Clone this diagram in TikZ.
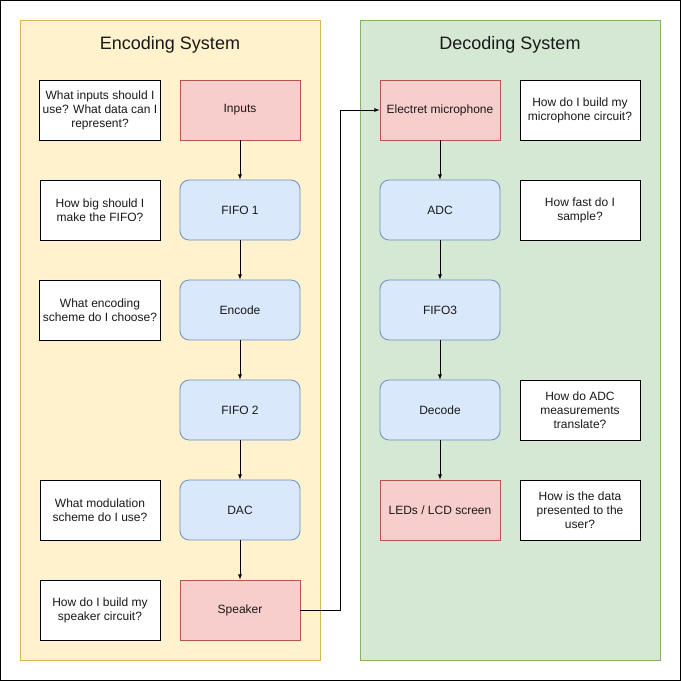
\documentclass[tikz,border=0pt]{standalone}
\usepackage{fontspec}
\setmainfont{Liberation Sans}
\usepackage{tikz}
\usetikzlibrary{arrows}
\definecolor{encfill}{HTML}{FFF2CC}
\definecolor{encline}{HTML}{D6B656}
\definecolor{decfill}{HTML}{D5E8D4}
\definecolor{decline}{HTML}{82B366}
\definecolor{redfill}{HTML}{F8CECC}
\definecolor{redline}{HTML}{B85450}
\definecolor{bluefill}{HTML}{DAE8FC}
\definecolor{blueline}{HTML}{6C8EBF}

\begin{document}
\begin{tikzpicture}[x=1pt, y=-1pt,
  every node/.style={font=\fontsize{12}{14}\selectfont, text=black!90, align=center},
  ques/.style={draw=black, fill=white, minimum width=120pt, minimum height=60pt, line width=0.8pt},
  hw/.style={draw=redline, fill=redfill, minimum width=120pt, minimum height=60pt, line width=0.8pt},
  blk/.style={draw=blueline, fill=bluefill, rounded corners=9pt, minimum width=120pt, minimum height=60pt, line width=0.8pt},
  flow/.style={-latex, line width=0.8pt}]
	\useasboundingbox (0,0) rectangle (681,681);
	\draw [line width=1pt] (0.5,0.5) rectangle (680.5,680.5);
	% panels
	\draw [encline, fill=encfill, line width=0.8pt] (20,20) rectangle (320,660);
	\draw [decline, fill=decfill, line width=0.8pt] (360,20) rectangle (660,660);
	\node [font=\fontsize{18}{22}\selectfont] (enctitle) at (170,45) {Encoding System};
	\node [font=\fontsize{18}{22}\selectfont] (dectitle) at (510,45) {Decoding System};
	% encoding chain
	\node [hw] (inputs) at (240,110) {Inputs};
	\node [blk] (fifoone) at (240,210) {FIFO 1};
	\node [blk] (encode) at (240,310) {Encode};
	\node [blk] (fifotwo) at (240,410) {FIFO 2};
	\node [blk] (dac) at (240,510) {DAC};
	\node [hw] (speaker) at (240,610) {Speaker};
	\node [ques] (qinputs) at (100,110) {What inputs should I\\use? What data can I\\represent?};
	\node [ques] (qfifo) at (100,210) {How big should I\\make the FIFO?};
	\node [ques] (qencode) at (100,310) {What encoding\\scheme do I choose?};
	\node [ques] (qdac) at (100,510) {What modulation\\scheme do I use?};
	\node [ques] (qspeaker) at (100,610) {How do I build my\\speaker circuit?};
	% decoding chain
	\node [hw] (mic) at (440,110) {Electret microphone};
	\node [blk] (adc) at (440,210) {ADC};
	\node [blk] (fifothree) at (440,310) {FIFO3};
	\node [blk] (decode) at (440,410) {Decode};
	\node [hw] (leds) at (440,510) {LEDs / LCD screen};
	\node [ques] (qmic) at (580,110) {How do I build my\\microphone circuit?};
	\node [ques] (qadc) at (580,210) {How fast do I\\sample?};
	\node [ques] (qdecode) at (580,410) {How do ADC\\measurements\\translate?};
	\node [ques] (qleds) at (580,510) {How is the data\\presented to the\\user?};
	% connectors
	\draw [flow] (inputs) -- (fifoone);
	\draw [flow] (fifoone) -- (encode);
	\draw [flow] (encode) -- (fifotwo);
	\draw [flow] (fifotwo) -- (dac);
	\draw [flow] (dac) -- (speaker);
	\draw [flow] (speaker.east) -- (340,610) -- (340,110) -- (mic.west);
	\draw [flow] (mic) -- (adc);
	\draw [flow] (adc) -- (fifothree);
	\draw [flow] (fifothree) -- (decode);
	\draw [flow] (decode) -- (leds);
\end{tikzpicture}
\end{document}
